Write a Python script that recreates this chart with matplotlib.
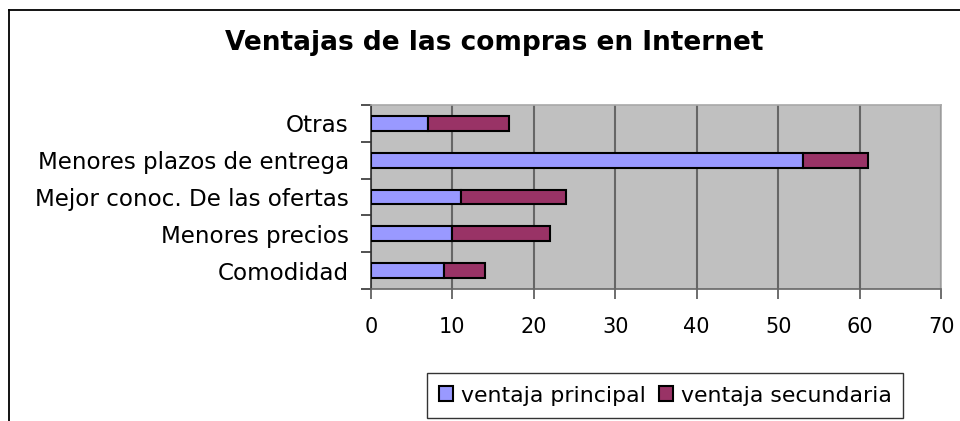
import matplotlib
matplotlib.use("Agg")
import matplotlib.pyplot as plt
from matplotlib.lines import Line2D
import numpy as np

categorias = ["Comodidad", "Menores precios", "Mejor conoc. De las ofertas",
              "Menores plazos de entrega", "Otras"]
principal = [9, 10, 11, 53, 7]
secundaria = [5, 12, 13, 8, 10]
xticks = [0, 10, 20, 30, 40, 50, 60, 70]

plt.rcParams['font.family'] = ['DejaVu Sans']

fig = plt.figure(figsize=(9.6, 4.21), dpi=100)
ax = fig.add_axes([371/960, 1 - 289/421, 570/960, 184/421])
ax.set_facecolor('#C0C0C0')

y = np.arange(len(categorias))
b1 = ax.barh(y, principal, height=0.4, color='#9999FF', edgecolor='black', linewidth=1.5,
             label='ventaja principal', zorder=3)
b2 = ax.barh(y, secundaria, left=principal, height=0.4, color='#993366', edgecolor='black',
             linewidth=1.5, label='ventaja secundaria', zorder=3)

ax.set_xlim(0, 70)
ax.set_ylim(-0.5, len(categorias) - 0.5)
ax.set_xticks(xticks)
ax.set_xticklabels([str(v) for v in xticks], fontsize=15)
ax.xaxis.grid(True, color='#666666', linewidth=1.5, zorder=1)

# y ticks en los limites de categoria, etiquetas en el centro
ax.set_yticks(np.arange(-0.5, len(categorias), 1.0))
ax.set_yticklabels([])
ax.set_yticks(y, minor=True)
ax.set_yticklabels(categorias, minor=True, fontsize=16.6)
ax.tick_params(axis='y', which='minor', length=0, pad=16)
ax.tick_params(axis='y', which='major', length=7, width=1.2, color='#333333', direction='out')
ax.tick_params(axis='x', length=7, width=1.2, color='#555555', direction='out', pad=13)

for s in ['top', 'right']:
    ax.spines[s].set_color('#a8a8a8')
    ax.spines[s].set_linewidth(1.2)
ax.spines['left'].set_color('#333333')
ax.spines['bottom'].set_color('#666666')
ax.spines['left'].set_linewidth(1.2)
ax.spines['bottom'].set_linewidth(1.2)

fig.text(494/960, 1 - 43/421, 'Ventajas de las compras en Internet', ha='center', va='center',
         fontsize=19, fontweight='bold')

leg = fig.legend(handles=[b1, b2], loc='center', bbox_to_anchor=(665/960, 1 - 395.5/421),
                 ncol=2, fontsize=15.8, frameon=True, fancybox=False, handlelength=0.65,
                 handleheight=0.65, handletextpad=0.35, columnspacing=0.6, borderpad=0.55,
                 borderaxespad=0)
leg.get_frame().set_edgecolor('black')
leg.get_frame().set_linewidth(1.0)

# borde exterior del grafico
fig.add_artist(Line2D([8.5/960, 8.5/960], [0, 1 - 10/421], color='black', linewidth=1.3,
                      transform=fig.transFigure))
fig.add_artist(Line2D([8.5/960, 1], [1 - 10/421, 1 - 10/421], color='black', linewidth=1.3,
                      transform=fig.transFigure))

fig.savefig('out.png', dpi=100, facecolor='white')
